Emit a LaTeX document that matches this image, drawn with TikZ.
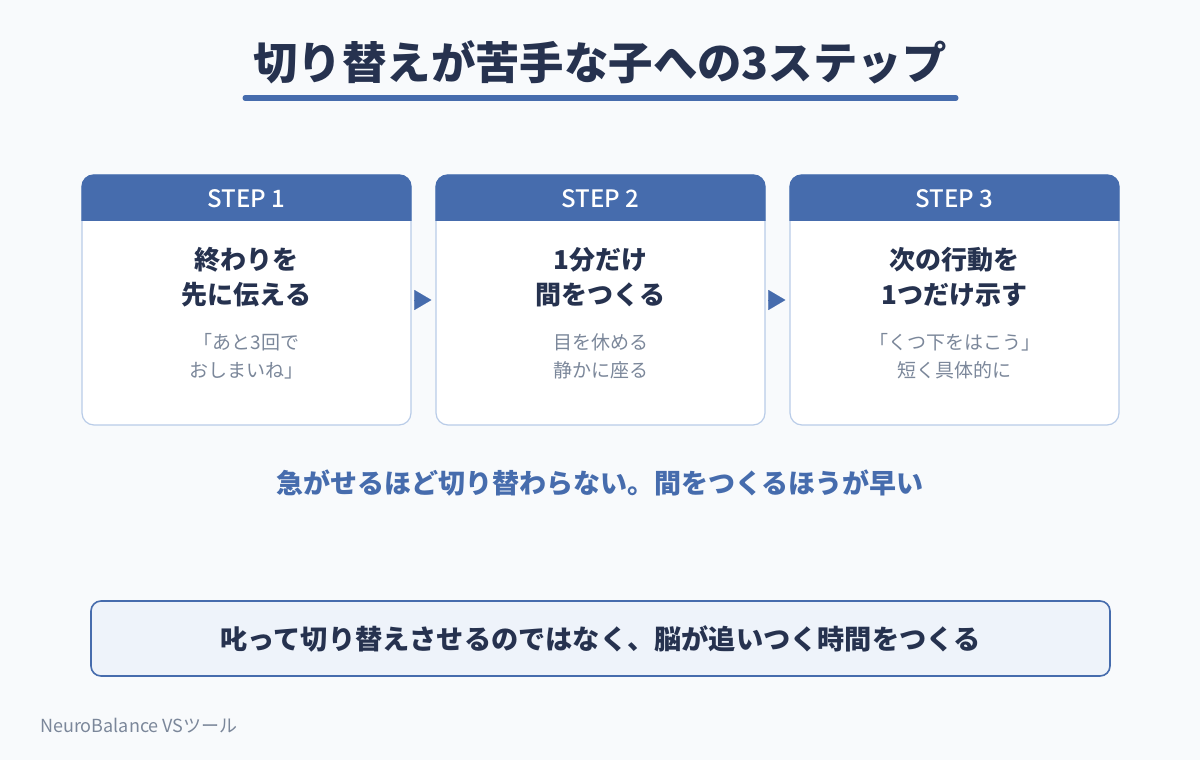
\documentclass[tikz,border=0pt]{standalone}
\usepackage{fontspec}
\setmainfont{Noto Sans CJK JP}
\newfontfamily\stepfont{Noto Sans CJK JP Medium}
\usetikzlibrary{arrows.meta,positioning,calc}
\definecolor{pagebg}{HTML}{F8FAFC}
\definecolor{navy}{HTML}{26324F}
\definecolor{headblue}{HTML}{466CAD}
\definecolor{edgeblue}{HTML}{B9CCE8}
\definecolor{subgray}{HTML}{7B879A}
\definecolor{notefill}{HTML}{EEF3FA}

\begin{document}
\begin{tikzpicture}[>=Stealth,x=1pt,y=-1pt,
 card/.style={draw=edgeblue,line width=1.2pt,fill=white,rounded corners=12pt,minimum width=329pt,minimum height=250pt,inner sep=0pt},
 head/.style={text=white,font=\stepfont\fontsize{24}{27}\selectfont},
 ttl/.style={text=navy,align=center,font=\fontsize{26}{35}\selectfont\bfseries},
 sub/.style={text=subgray,align=center,font=\fontsize{19}{28}\selectfont},
 tip/.style={line width=0.1pt,draw=headblue,shorten <=4pt,shorten >=4pt,-{Triangle[length=17pt,width=20pt]}}]
\useasboundingbox[fill=pagebg] (0,0) rectangle (1200,760);
\node[text=navy,font=\fontsize{44.4}{50}\selectfont\bfseries] (title) at (600,62) {切り替えが苦手な子への3ステップ};
\draw[headblue,line width=5pt,line cap=round] (245,98) -- (956,98);
% cards
\node[card] (c1) at (246.5,300) {};
\node[card] (c2) at (600.5,300) {};
\node[card] (c3) at (954.5,300) {};
\begin{scope}
\clip[rounded corners=12pt] (c1.south west) rectangle (c1.north east);
\fill[headblue] (c1.north west) rectangle ([yshift=-47pt]c1.north east);
\end{scope}
\begin{scope}
\clip[rounded corners=12pt] (c2.south west) rectangle (c2.north east);
\fill[headblue] (c2.north west) rectangle ([yshift=-47pt]c2.north east);
\end{scope}
\begin{scope}
\clip[rounded corners=12pt] (c3.south west) rectangle (c3.north east);
\fill[headblue] (c3.north west) rectangle ([yshift=-47pt]c3.north east);
\end{scope}
\node[head] (h1) at (246.5,199) {STEP 1};
\node[head] (h2) at (600.5,199) {STEP 2};
\node[head] (h3) at (954.5,199) {STEP 3};
\node[ttl] (t1) at (246.5,277.5) {終わりを\\先に伝える};
\node[ttl] (t2) at (600.5,277.5) {1分だけ\\間をつくる};
\node[ttl] (t3) at (954.5,277.5) {次の行動を\\1つだけ示す};
\node[sub] (d1) at (246.5,356) {「あと3回で\\おしまいね」};
\node[sub] (d2) at (600.5,356) {目を休める\\静かに座る};
\node[sub] (d3) at (954.5,356) {「くつ下をはこう」\\短く具体的に};
\draw[tip] (c1.east) -- (c2.west);
\draw[tip] (c2.east) -- (c3.west);
% message and note
\node[text=headblue,font=\fontsize{27}{31}\selectfont\bfseries] (msg) at (600,483) {急がせるほど切り替わらない。間をつくるほうが早い};
\node[draw=headblue,line width=1.6pt,fill=notefill,rounded corners=10pt,minimum width=1019pt,minimum height=75pt,text=navy,font=\fontsize{27.2}{31}\selectfont\bfseries] (note) at (600.5,638.5) {叱って切り替えさせるのではなく、脳が追いつく時間をつくる};
\node[anchor=west,inner sep=0pt,text=subgray,font=\fontsize{18}{21}\selectfont] (foot) at (40,726) {NeuroBalance VSツール};
\end{tikzpicture}
\end{document}
